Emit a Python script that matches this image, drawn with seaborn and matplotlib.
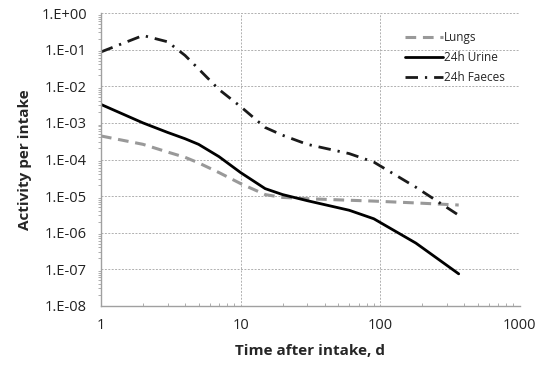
import numpy as np
import pandas as pd
import matplotlib
matplotlib.use('Agg')
import matplotlib.pyplot as plt
import matplotlib.ticker as mticker
import seaborn as sns

# =============================================================================
# DATOS
# =============================================================================
dias = [1, 2, 3, 4, 5, 7, 10, 15, 20, 30, 60, 90, 180, 365]
pulmones = [4.4e-4, 2.6e-4, 1.6e-4, 1.15e-4, 8.1e-5, 4.4e-5, 2.2e-5, 1.1e-5,
            9.2e-6, 8.5e-6, 7.7e-6, 7.3e-6, 6.5e-6, 5.7e-6]
orina = [3.2e-3, 1.0e-3, 5.5e-4, 3.7e-4, 2.6e-4, 1.2e-4, 4.4e-5, 1.6e-5,
         1.1e-5, 7.5e-6, 4.1e-6, 2.4e-6, 5.2e-7, 7.5e-8]
heces = [8.7e-2, 2.45e-1, 1.65e-1, 7.0e-2, 3.0e-2, 8.2e-3, 2.8e-3, 7.5e-4,
         4.6e-4, 2.6e-4, 1.45e-4, 8.5e-5, 1.75e-5, 3.0e-6]

sns.set_style('white')
plt.rcParams['font.family'] = ['Open Sans', 'DejaVu Sans']

fig = plt.figure(figsize=(5.37, 3.65), dpi=100)
ax = fig.add_axes([0.188, 0.162, 0.78, 0.802])

sns.lineplot(x=dias, y=pulmones, ax=ax, color='#999999', lw=2.2, label='Lungs')
sns.lineplot(x=dias, y=orina, ax=ax, color='black', lw=2.0, label='24h Urine')
sns.lineplot(x=dias, y=heces, ax=ax, color='#1a1a1a', lw=2.0, label='24h Faeces')

lineas = ax.get_lines()
lineas[0].set_dashes([3.5, 2.2])
lineas[2].set_dashes([4.5, 2.5, 0.8, 2.5])

ax.set_xscale('log')
ax.set_yscale('log')
ax.set_xlim(1, 1000)
ax.set_ylim(1e-8, 1)

ax.yaxis.set_major_locator(mticker.LogLocator(base=10, numticks=12))
ax.yaxis.set_major_formatter(mticker.FuncFormatter(
    lambda v, p: '1.E+00' if abs(np.log10(v)) < 1e-9 else f'1.E-{int(round(-np.log10(v))):02d}'))
ax.xaxis.set_major_formatter(mticker.FuncFormatter(lambda v, p: f'{v:g}'))
ax.yaxis.set_minor_locator(mticker.LogLocator(base=10, subs=np.arange(2, 10), numticks=12))
ax.yaxis.set_minor_formatter(mticker.NullFormatter())

ax.grid(True, which='major', color='#b0b0b0', linestyle=(0, (2, 1.5)), linewidth=0.7)
for lado in ['top', 'right']:
    ax.spines[lado].set_visible(False)
for lado in ['left', 'bottom']:
    ax.spines[lado].set_color('#a0a0a0')
    ax.spines[lado].set_linewidth(1.0)

ax.tick_params(axis='both', which='major', labelsize=10.5, length=3, color='#a0a0a0',
               labelcolor='#222222', direction='out')
ax.tick_params(axis='y', which='major', pad=7)
ax.tick_params(axis='y', which='minor', length=2.5, color='#a0a0a0', direction='out', left=True)
ax.tick_params(axis='x', which='minor', length=2.5, color='#a0a0a0', direction='in', bottom=True)
ax.tick_params(axis='x', which='major', pad=6)

ax.set_xlabel('Time after intake, d', fontsize=11, weight='bold', labelpad=8)
ax.set_ylabel('Activity per intake', fontsize=11, weight='bold', labelpad=7)

ax.legend(loc='upper right', bbox_to_anchor=(0.99, 0.975), frameon=False, fontsize=8.5,
          handlelength=3.2, handletextpad=0.1, labelspacing=0.6)

plt.savefig('out.png', dpi=100)
